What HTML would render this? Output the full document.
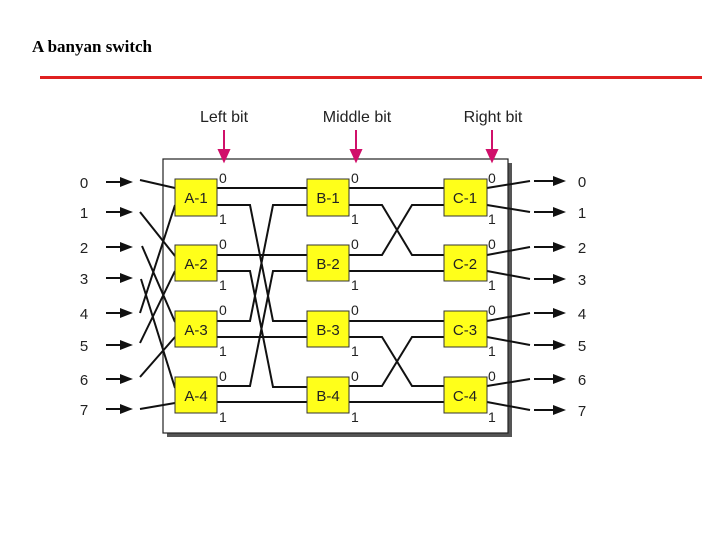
<!DOCTYPE html><html><head><style>body{margin:0;background:#fff}</style></head><body>
<svg width="720" height="540" xmlns="http://www.w3.org/2000/svg" font-family="Liberation Sans, sans-serif">
<text x="32" y="52" font-family="Liberation Serif, serif" font-weight="bold" font-size="17">A banyan switch</text>
<line x1="40" y1="77.5" x2="702" y2="77.5" stroke="#e02020" stroke-width="3"/>
<rect x="167" y="163" width="345" height="274" fill="#555"/>
<rect x="163" y="159" width="345" height="274" fill="#fff" stroke="#222" stroke-width="1.2"/>
<g font-size="16" fill="#222" text-anchor="middle">
<text x="224" y="122">Left bit</text><text x="357" y="122">Middle bit</text><text x="493" y="122">Right bit</text></g>
<g stroke="#d0106a" stroke-width="2" fill="#d0106a">
<line x1="224" y1="130" x2="224" y2="152"/><polygon points="219,150 229,150 224,161"/>
<line x1="356" y1="130" x2="356" y2="152"/><polygon points="351,150 361,150 356,161"/>
<line x1="492" y1="130" x2="492" y2="152"/><polygon points="487,150 497,150 492,161"/></g>
<g stroke="#111" stroke-width="2" fill="none">
<path d="M140 180 L175 188 M140 212 L175 256 M142 246 L175 322 M141 279 L175 388 M140 313 L175 205 M140 343 L175 271 M140 377 L175 337 M140 409 L175 403"/>
<path d="M217 188 H307 M217 255 H307 M217 337 H307 M217 402 H307"/>
<path d="M217 205 H250 L273 321 H307 M217 321 H250 L273 205 H307 M217 271 H250 L273 387 H307 M217 386 H250 L273 271 H307"/>
<path d="M349 188 H444 M349 271 H444 M349 321 H444 M349 402 H444"/>
<path d="M349 205 H382 L412 255 H444 M349 255 H382 L412 205 H444 M349 337 H382 L412 386 H444 M349 386 H382 L412 337 H444"/>
<path d="M487 188 L530 181 M487 205 L530 212 M487 255 L530 247 M487 271 L530 279 M487 321 L530 313 M487 337 L530 345 M487 386 L530 379 M487 402 L530 410"/>
</g>
<g stroke="#111" stroke-width="2">
<line x1="106" y1="182" x2="124" y2="182"/><line x1="106" y1="212" x2="124" y2="212"/><line x1="106" y1="247" x2="124" y2="247"/><line x1="106" y1="278" x2="124" y2="278"/><line x1="106" y1="313" x2="124" y2="313"/><line x1="106" y1="345" x2="124" y2="345"/><line x1="106" y1="379" x2="124" y2="379"/><line x1="106" y1="409" x2="124" y2="409"/>
<line x1="534" y1="181" x2="556" y2="181"/><line x1="534" y1="212" x2="556" y2="212"/><line x1="534" y1="247" x2="556" y2="247"/><line x1="534" y1="279" x2="556" y2="279"/><line x1="534" y1="313" x2="556" y2="313"/><line x1="534" y1="345" x2="556" y2="345"/><line x1="534" y1="379" x2="556" y2="379"/><line x1="534" y1="410" x2="556" y2="410"/></g>
<g fill="#111">
<polygon points="120,177 133,182 120,187"/><polygon points="120,207 133,212 120,217"/><polygon points="120,242 133,247 120,252"/><polygon points="120,273 133,278 120,283"/><polygon points="120,308 133,313 120,318"/><polygon points="120,340 133,345 120,350"/><polygon points="120,374 133,379 120,384"/><polygon points="120,404 133,409 120,414"/>
<polygon points="553,176 566,181 553,186"/><polygon points="553,207 566,212 553,217"/><polygon points="553,242 566,247 553,252"/><polygon points="553,274 566,279 553,284"/><polygon points="553,308 566,313 553,318"/><polygon points="553,340 566,345 553,350"/><polygon points="553,374 566,379 553,384"/><polygon points="553,405 566,410 553,415"/></g>
<g font-size="15" fill="#222" text-anchor="middle">
<text x="84" y="188">0</text><text x="84" y="218">1</text><text x="84" y="253">2</text><text x="84" y="284">3</text><text x="84" y="319">4</text><text x="84" y="351">5</text><text x="84" y="385">6</text><text x="84" y="415">7</text>
<text x="582" y="187">0</text><text x="582" y="218">1</text><text x="582" y="253">2</text><text x="582" y="285">3</text><text x="582" y="319">4</text><text x="582" y="351">5</text><text x="582" y="385">6</text><text x="582" y="416">7</text></g>
<g fill="#ffff1a" stroke="#333" stroke-width="1">
<rect x="175" y="179" width="42" height="37"/><rect x="175" y="245" width="42" height="36"/><rect x="175" y="311" width="42" height="36"/><rect x="175" y="377" width="42" height="36"/>
<rect x="307" y="179" width="42" height="37"/><rect x="307" y="245" width="42" height="36"/><rect x="307" y="311" width="42" height="36"/><rect x="307" y="377" width="42" height="36"/>
<rect x="444" y="179" width="43" height="37"/><rect x="444" y="245" width="43" height="36"/><rect x="444" y="311" width="43" height="36"/><rect x="444" y="377" width="43" height="36"/></g>
<g font-size="15" fill="#222" text-anchor="middle">
<text x="196" y="203">A-1</text><text x="196" y="269">A-2</text><text x="196" y="335">A-3</text><text x="196" y="401">A-4</text>
<text x="328" y="203">B-1</text><text x="328" y="269">B-2</text><text x="328" y="335">B-3</text><text x="328" y="401">B-4</text>
<text x="465" y="203">C-1</text><text x="465" y="269">C-2</text><text x="465" y="335">C-3</text><text x="465" y="401">C-4</text></g>
<g font-size="14" fill="#222">
<text x="219" y="183">0</text><text x="219" y="249">0</text><text x="219" y="315">0</text><text x="219" y="381">0</text>
<text x="351" y="183">0</text><text x="351" y="249">0</text><text x="351" y="315">0</text><text x="351" y="381">0</text>
<text x="488" y="183">0</text><text x="488" y="249">0</text><text x="488" y="315">0</text><text x="488" y="381">0</text>
<text x="219" y="224">1</text><text x="219" y="290">1</text><text x="219" y="356">1</text><text x="219" y="422">1</text>
<text x="351" y="224">1</text><text x="351" y="290">1</text><text x="351" y="356">1</text><text x="351" y="422">1</text>
<text x="488" y="224">1</text><text x="488" y="290">1</text><text x="488" y="356">1</text><text x="488" y="422">1</text></g>
</svg></body></html>
